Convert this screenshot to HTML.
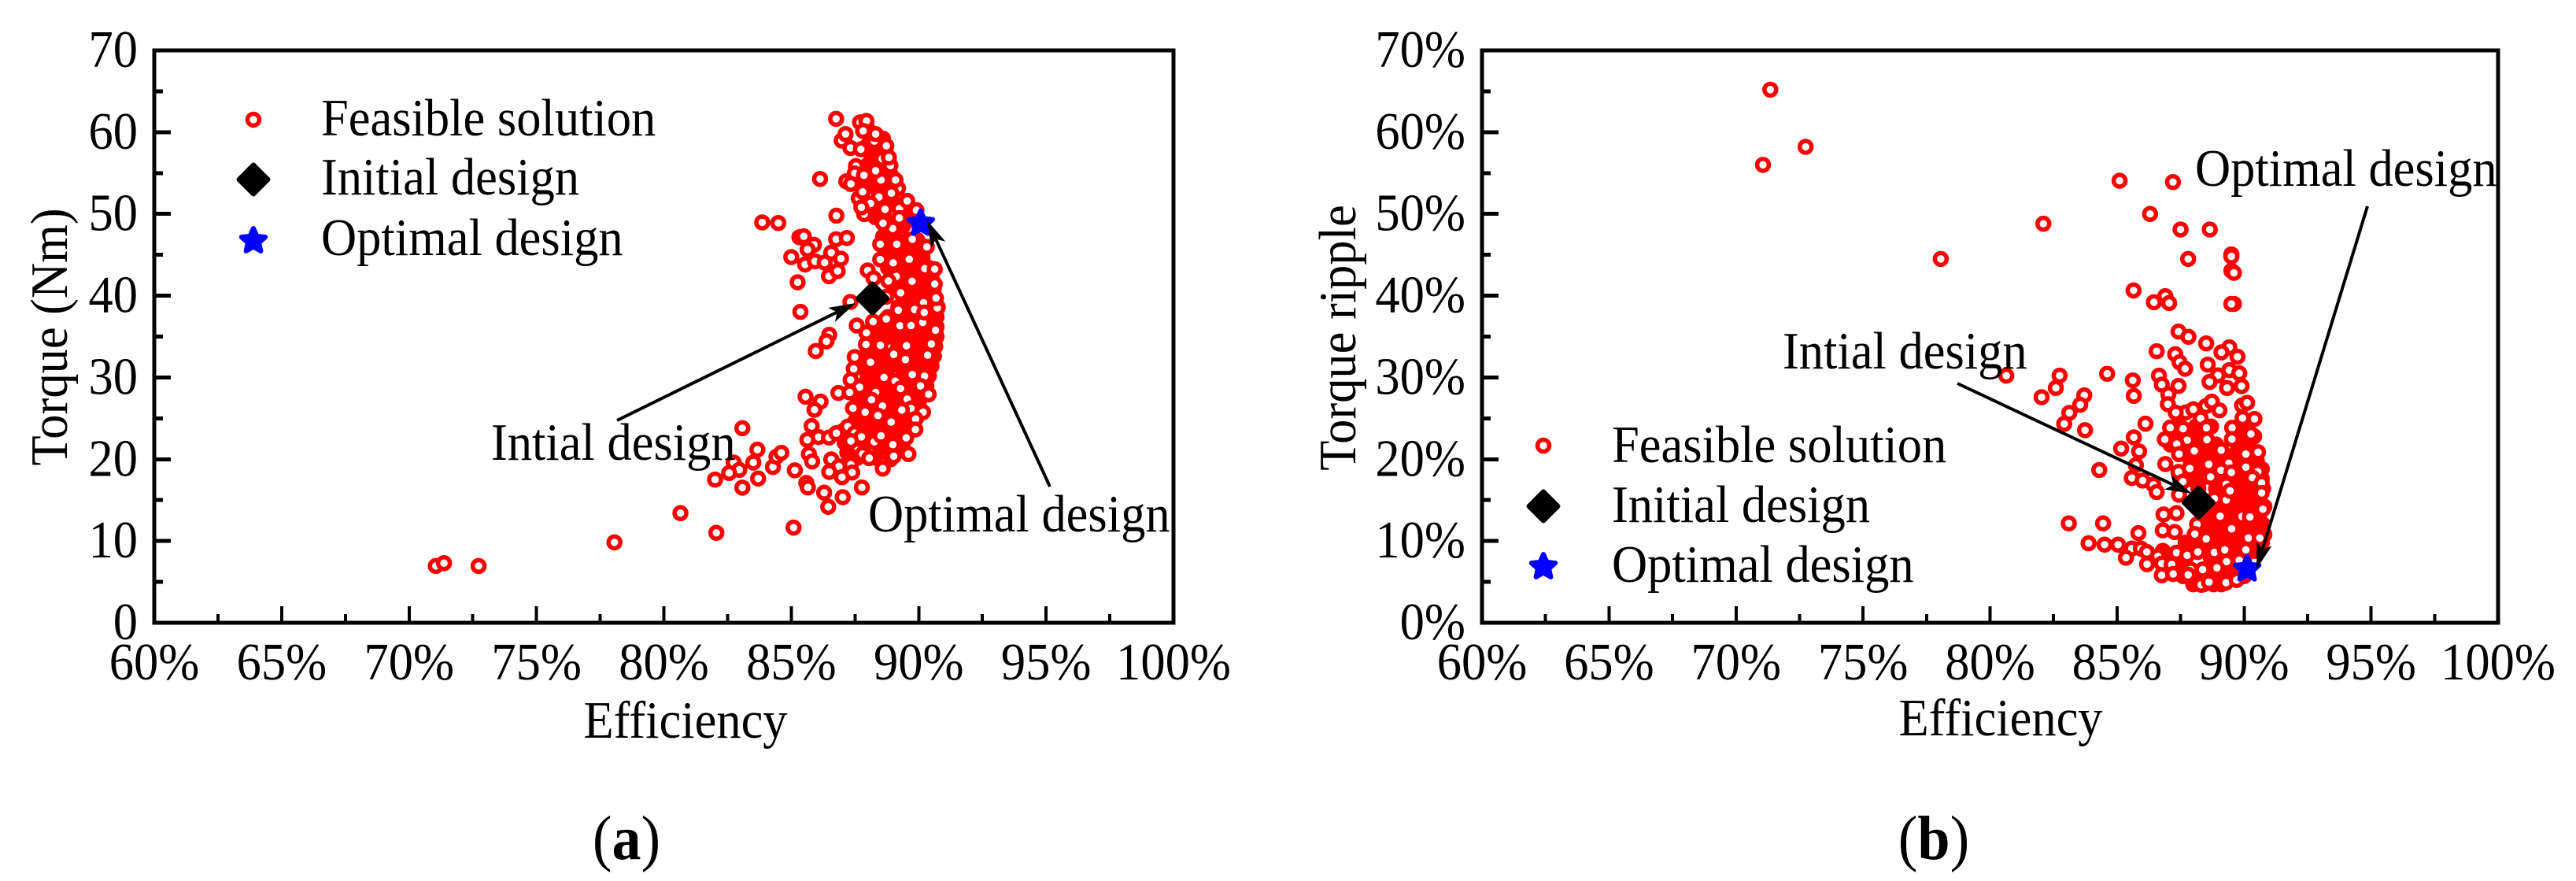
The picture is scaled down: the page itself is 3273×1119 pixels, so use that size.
<!DOCTYPE html>
<html lang="en">
<head>
<meta charset="utf-8">
<title>Feasible solutions: torque and torque ripple against efficiency</title>
<style>
html,body{margin:0;padding:0;background:#fff;}
svg{display:block;}
text{font-family:"Liberation Serif",serif;font-size:62.5px;fill:#000;}
</style>
</head>
<body>
<svg id="figure" xmlns="http://www.w3.org/2000/svg" width="3273" height="1119" viewBox="0 0 3273 1119">
  <rect x="0" y="0" width="3273" height="1119" fill="#fff"/>
  <g id="panel-a"></g>
  <g id="panel-b"></g>

  <text transform="translate(871,937) scale(1,1.07)" text-anchor="middle">Efficiency</text>
  <text transform="translate(85,428) rotate(-90) scale(1,1.07)" text-anchor="middle">Torque (Nm)</text>
  <text transform="translate(408,172) scale(1,1.07)">Feasible solution</text>
  <text transform="translate(408,247) scale(1,1.07)">Initial design</text>
  <text transform="translate(408,324) scale(1,1.07)">Optimal design</text>
  <text transform="translate(624,584) scale(1,1.07)">Intial design</text>
  <text transform="translate(1103,675) scale(1,1.07)">Optimal design</text>
  <text transform="translate(796,1091) scale(1,1.07)" text-anchor="middle" style="font-size:74px">(<tspan font-weight="bold">a</tspan>)</text>

  <text transform="translate(2542,934) scale(1,1.07)" text-anchor="middle">Efficiency</text>
  <text transform="translate(1722,429) rotate(-90) scale(1,1.07)" text-anchor="middle">Torque ripple</text>
  <text transform="translate(2048,587) scale(1,1.07)">Feasible solution</text>
  <text transform="translate(2048,663) scale(1,1.07)">Initial design</text>
  <text transform="translate(2048,739) scale(1,1.07)">Optimal design</text>
  <text transform="translate(2265,468) scale(1,1.07)">Intial design</text>
  <text transform="translate(2789,236) scale(1,1.07)">Optimal design</text>
  <text transform="translate(2457,1091) scale(1,1.07)" text-anchor="middle" style="font-size:74px">(<tspan font-weight="bold">b</tspan>)</text>
</svg>
<script>
var efficiencyTicks = [60, 65, 70, 75, 80, 85, 90, 95, 100];
var efficiencyTickLabels = ['60%', '65%', '70%', '75%', '80%', '85%', '90%', '95%', '100%'];
var torqueTicks = [0, 10, 20, 30, 40, 50, 60, 70];
var torqueTickLabels = ['0', '10', '20', '30', '40', '50', '60', '70'];
var rippleTicks = [0, 10, 20, 30, 40, 50, 60, 70];
var rippleTickLabels = ['0%', '10%', '20%', '30%', '40%', '50%', '60%', '70%'];

var initialDesignA = [88.19, 39.67];
var optimalDesignA = [90.08, 48.85];
var initialDesignB = [88.21, 14.7];
var optimalDesignB = [90.12, 6.57];

/* Feasible solutions, panel (a): [efficiency %, torque Nm]. Overlapped mass first. */
var feasibleDenseA = [
[89.2,46.8],[89.6,46.8],[89.95,46.8],[88.8,45.6],[89.2,45.6],[89.6,45.6],[90,45.6],[89.3,44.6],[89.7,44.6],[90.15,44.6],
[88.8,43.4],[89.2,43.4],[89.6,43.4],[90,43.4],[90.4,43.4],[89.4,42.2],[89.8,42.2],[90.2,42.2],[90.5,42.2],
[89,41],[89.4,41],[89.8,41],[90.2,41],[90.6,41],[89.6,39.8],[90,39.8],[90.4,39.8],[90.65,39.8],
[89.2,38.6],[89.6,38.6],[90,38.6],[90.4,38.6],[90.75,38.6],[88.8,37.4],[89.4,37.4],[89.8,37.4],[90.4,37.4],[90.7,37.4],
[88.4,36.2],[89,36.2],[89.4,36.2],[89.9,36.2],[90.3,36.2],[90.7,36.2],[88.3,35],[88.8,35],[89.2,35],[89.6,35],[90,35],[90.3,35],[90.7,35],
[88.1,33.8],[89.2,33.8],[89.9,33.8],[90.2,33.8],[90.65,33.8],[87.9,32.6],[88.4,32.6],[88.8,32.6],[89.8,32.6],[90.1,32.6],[90.6,32.6],
[87.8,31.4],[88.5,31.4],[88.9,31.4],[89.3,31.4],[89.7,31.4],[90.1,31.4],[90.5,31.4],[88,30.2],[88.3,30.2],[89.4,30.2],[90.4,30.2],
[87.6,29],[88.2,29],[88.6,29],[89,29],[89.6,29],[90.3,29],[87.9,27.8],[88.7,27.8],[89.1,27.8],[89.9,27.8],
[87.6,26.8],[88.2,26.8],[89.1,26.8],[89.6,26.8],[90,26.8],[87.8,25.6],[88.3,25.6],[88.9,25.6],[89.3,25.6],[89.9,25],
[87.5,24.6],[88.1,24.4],[88.5,24.6],[89.4,24.2],[87,23.4],[87.9,23.2],[88.4,23.4],[88.9,23.4],[89.3,23.2],
[87.1,22],[87.9,21.8],[88.5,21.4],[89.4,21.2],[87.2,20.8],[87.6,20.2],[88.3,20.2],[88.9,20],
[88.3,49.6],[88.6,50],[89,49],[89.4,48.6],[88.6,47.2],[89.1,53],[88.4,53.4],[88,54],[88.3,56],[88,58.4],
[88.1,57.5],[88.5,57.8],[88.4,55.8],[88,56],[88.9,54.8],[88.7,53],[88.2,53.2],[87.8,53.6],[88.4,51.3],[89,51.5],[88.2,50.4],[89.4,50],[89.7,49.3],[88,60.4],[88.6,59.2]
];
var feasibleOpenA = [
[71.05,6.95],[71.37,7.29],[72.73,6.95],[78.06,9.83],[80.65,13.41],[82.06,11],[85.09,11.64],
[86.76,61.63],[87.7,61.2],[87.95,61.37],[87.82,60.15],[87.08,59.13],[86.98,58.97],[87.13,59.77],[88.26,58.9],[87.32,58.07],[87.73,57.91],[88.31,59.77],[88.73,58.32],
[88.57,56.75],[88.89,55.92],[88.83,56.9],[87.54,55.85],[87.49,54.96],[87.85,54.73],[87.16,53.99],[87.34,53.67],[86.13,54.28],[89.19,53.13],[89.09,54.15],[88.52,54.15],[88.31,55.28],
[88,52.23],[88.44,52.07],[87.65,51.91],[87.8,52.7],[88.11,51.27],[87.86,49.98],[87.75,50.8],[88.68,50.56],[89.25,50.66],[88.93,52.55],[89.55,51.6],[89.91,50.46],[86.77,49.79],
[83.86,48.96],[84.49,48.89],[85.32,47.16],[85.49,47.26],[85.89,46.23],[85.64,45.65],[85.54,43.82],[86.76,46.9],[87.18,47.06],[86.57,45.27],[85,44.72],[85.93,44.21],[86.95,44.53],[86.31,44.05],[86.48,42.38],[86.82,43.02],[85.25,41.64],[85.36,38.02],
[88.49,46.29],[89.14,46.29],[88.98,48.22],[88.6,48.86],[89.24,49.5],[88.49,44.43],[89,44.02],[89.63,44.46],[90.24,43.31],[90.63,43.25],[90.32,45.97],[89.75,46.9],[88,43.09],[88.23,42.12],[89.12,42.35],[88.81,41.8],[89.74,41.77],[90.63,41.42],
[89.29,40.36],[88.73,39.88],[87.32,39.24],[90.19,39.14],[90.73,38.5],[90.68,39.7],[89.2,38.21],[89.84,38.31],[90.16,36.73],[90.22,37.95],[89.27,36.32],[87.57,36.35],[88.21,36.83],[88.73,37.15],[89.7,36.35],[90.63,36.03],
[90.66,35.77],[87.95,35.45],[87.93,34.04],[88.5,33.94],[89.52,33.88],[90.5,34.1],[86.49,35.22],[86.38,34.42],[85.96,33.23],[89.02,32.82],[89.48,32.18],[90.35,32.72],[88.11,31.86],[87.49,32.5],[87.45,31.05],[89.75,30.35],[90.23,30.15],[88.64,30],[89.08,29.55],[87.33,29.71],[87.68,28.81],[90.07,28.97],[89.29,28.65],
[86.85,28.1],[87.29,28.17],[90.39,27.94],[88.31,28.17],[88.15,27.27],[89.55,27.36],[85.56,27.65],[86.15,27.04],[85.91,26.05],[87.42,26.24],[88.58,26.5],[89.7,26.21],[89.34,26.02],[88.4,25.34],[87.9,25.76],[90.17,25.76],[89.88,24.93],[88.92,24.54],
[85.8,24.06],[87.22,24],[89.87,23.64],[86.07,22.71],[86.48,22.65],[86.77,23.19],[87.49,23.19],[87.75,22.74],[88.26,22.13],[88.52,22.87],[89.51,22.62],[85.63,22.36],[87.34,22.23],[88.99,21.78],[85.69,20.63],[85.82,19.73],[87.8,20.63],[86.57,19.98],[89.02,20.37],[89.6,20.63],[88.59,19.41],[88.59,18.86],[86.87,19.12],[87.34,19.34],[86.49,18.45],[87.39,18.38],[86.99,17.8],[88.06,20.14],
[83.08,23.8],[83.67,21.17],[83.51,19.6],[82.74,19.6],[82.96,18.7],[82.56,18.32],[82.01,17.51],[83.08,16.52],[83.7,17.64],[84.28,19.05],[84.42,20.31],[84.61,20.79],[85.14,18.64],[85.59,17.1],[85.65,16.55],[86.29,15.91],[86.45,14.18],[87.02,15.36],[87.77,16.55]
];

/* Feasible solutions, panel (b): [efficiency %, torque ripple %]. Overlapped mass first. */
var feasibleDenseB = [
[88,4.7],[88.4,4.7],[88.8,4.7],[89.1,4.7],[87.6,5.7],[88,5.7],[88.9,5.7],[89.4,5.7],[90,5.7],[87.4,6.8],[87.6,6.8],[88.7,6.8],[89.6,6.8],
[86.4,7.8],[87,7.8],[87.5,7.8],[88.7,7.8],[89,7.8],[89.6,7.8],[90,7.8],[86.8,8.8],[87.9,8.8],[88.5,8.8],[89.6,8.8],[90.4,8.8],
[87.7,9.8],[88.3,9.8],[88.7,9.8],[89.1,9.8],[89.5,9.8],[89.9,9.8],[90.4,9.8],[90.7,9.8],[88.4,10.8],[88.9,10.8],[89.3,10.8],[89.7,10.8],[90.5,10.8],[90.8,10.8],
[88.5,12],[88.8,12],[89.2,12],[89.6,12],[90,12],[90.4,12],[90.75,12],[88.5,13.2],[88.7,13.2],[89.4,13.2],[89.7,13.2],[90.6,13.2],
[88.9,14.2],[89.4,14.2],[89.8,14.2],[90.1,14.2],[90.5,14.2],[90.8,14.2],[88.9,15.4],[89.6,15.4],[90,15.4],[90.3,15.4],[90.6,15.4],
[88.2,16.4],[88.9,16.4],[89.9,16.4],[90.3,16.4],[90.75,16.4],[87.9,17.6],[88.3,17.6],[89,17.6],[89.8,17.6],[90,17.6],[90.4,17.6],[90.7,17.6],
[88.2,18.8],[89.7,18.8],[90.3,18.8],[90.7,18.8],[87.9,19.8],[88.2,19.8],[88.8,19.8],[89.2,19.8],[89.8,19.8],[90.3,19.8],[90.5,19.8],
[87.5,20.8],[88.4,20.8],[88.8,20.8],[89.7,20.8],[87.1,21.8],[88.3,21.8],[88.9,21.8],[89.9,21.8],[90.2,21.8],[87.4,22.8],[88,22.8],[88.3,22.8],[90,22.8],[90.4,22.8],
[87.5,24],[88.1,24],[88.5,24],[88.7,24],[89.9,24]
];
var feasibleOpenB = [
[71.35,65.2],[72.74,58.2],[71.06,56],[85.1,54.06],[87.2,53.9],[86.3,50],[82.1,48.8],[87.5,48.1],[88.65,48.1],[78.06,44.5],[87.8,44.5],[89.5,45.05],[89.5,44.8],[89.5,43.05],[89.6,42.8],[85.65,40.65],[86.9,39.95],[86.45,39.2],[87.05,39.1],[89.6,39],[89.5,39],
[80.64,30.22],[87.42,35.61],[87.81,34.97],[88.51,34.17],[89.42,33.69],[89.11,33.08],[89.74,32.53],[86.56,33.21],[87.29,32.85],[87.46,31.86],[87.68,31.06],[88.57,31.57],[89.42,30.9],[89.81,30.51],[88.97,30.26],[88.64,29.45],[89.9,28.94],[89.33,28.72],
[82.74,30.22],[82.59,28.72],[82.03,27.59],[83.71,27.82],[83.55,26.66],[83.12,25.67],[82.92,24.32],[83.74,23.55],[84.61,30.45],[85.62,29.65],[85.66,27.75],[86.65,30.22],[86.76,29.13],[87.42,28.97],[87.02,27.95],[87,26.73],
[89.92,26.57],[90.12,26.9],[88.5,26.5],[88.73,27.05],[89.03,25.99],[87.71,25.73],[87.31,25.7],[88,26.1],[88.29,25],[89.94,25.03],[90.41,24.93],[87.09,23.87],[87.6,23.74],[88.52,23.84],[89.53,23.84],[90.27,23.1],[89.52,22.46],[86.88,22.43],[87.76,22.33],[88.54,22.4],[87.35,21.85],[88.04,21.02],[89.1,21.11],[90.55,20.86],[90.07,20.63],
[86.12,24.35],[85.66,22.68],[85.16,21.3],[85.87,20.95],[85.74,19.28],[84.3,18.68],[86.9,19.41],[87.42,18.45],[87.86,18.87],[88.61,19.38],[89.4,19.51],[87.44,20.63],[88.68,17.84],[89.09,18.64],[89.5,18.39],[90.07,19.03],[90.54,18.48],[85.58,17.71],[86.01,17.39],[86.43,16.88],[87.59,17.26],[89.3,16.94],[90.33,17.74],
[90.69,17.1],[90.69,15.88],[89.3,15.02],[89.45,16.14],[87.44,15.66],[86.56,15.98],[88.83,15.18],[90.74,13.89],[89.92,13],[90.23,12.93],[89.06,13.03],[86.83,13.25],[87.34,13.41],[86.8,11.3],[87.27,11.1],[88.15,12.03],[89.51,11.49],[83.1,12.16],[84.45,12.16],[85.84,10.97],
[90.17,10.36],[90.62,10.36],[88.51,10.27],[88.06,10.85],[83.88,9.72],[84.51,9.56],[85.04,9.56],[85.58,9.08],[85.35,7.96],[85.94,9.08],[86.17,8.66],[86.18,7.16],[86.61,8.12],[87.34,8.57],[87.76,8.25],[88.18,8.66],[88.83,8.6],[89.24,8.92],[90.07,8.92],
[86.76,7.25],[87.15,7.12],[89.31,7.48],[89.81,7.64],[86.76,5.81],[87.21,5.97],[87.9,6.51],[88.37,6.51],[88.93,6.71],[87.8,5.87],[88.31,4.65],[88.62,4.97],[89.29,4.91],[89.71,5.23]
];

var SVGNS = 'http://www.w3.org/2000/svg';
var RED = '#ff0000';
var BLUE = '#0000ff';

function make(parent, tag, attrs) {
  var el = document.createElementNS(SVGNS, tag);
  for (var k in attrs) { el.setAttribute(k, attrs[k]); }
  parent.appendChild(el);
  return el;
}

function drawRing(parent, px, py, name, core) {
  var el = make(parent, 'circle', {cx: px, cy: py, r: 7.5, fill: core, stroke: RED, 'stroke-width': 5.5});
  
  
  return el;
}

function drawDiamond(parent, px, py, name) {
  var d = 18.5;
  var el = make(parent, 'polygon', {
    points: px + ',' + (py - d) + ' ' + (px + d) + ',' + py + ' ' + px + ',' + (py + d) + ' ' + (px - d) + ',' + py,
    fill: '#000', stroke: '#000', 'stroke-width': 6, 'stroke-linejoin': 'round'
  });
  
  
  return el;
}

function drawStar(parent, px, py, name) {
  var pts = [];
  for (var i = 0; i < 10; i++) {
    var rad = i % 2 === 0 ? 16 : 7.5;
    var ang = -Math.PI / 2 + i * Math.PI / 5;
    pts.push((px + rad * Math.cos(ang)).toFixed(1) + ',' + (py + rad * Math.sin(ang)).toFixed(1));
  }
  var el = make(parent, 'polygon', {
    points: pts.join(' '), fill: BLUE, stroke: BLUE, 'stroke-width': 6, 'stroke-linejoin': 'round'
  });
  
  
  return el;
}

function drawArrow(parent, x1, y1, x2, y2, name) {
  var dx = x2 - x1, dy = y2 - y1, len = Math.sqrt(dx * dx + dy * dy);
  var ux = dx / len, uy = dy / len, nx = -uy, ny = ux;
  var g = make(parent, 'g', {});
  
  
  make(g, 'line', {x1: x1, y1: y1, x2: x2 - ux * 20, y2: y2 - uy * 20, stroke: '#000', 'stroke-width': 4});
  var p = [
    [x2, y2],
    [x2 - ux * 34 + nx * 10, y2 - uy * 34 + ny * 10],
    [x2 - ux * 26, y2 - uy * 26],
    [x2 - ux * 34 - nx * 10, y2 - uy * 34 - ny * 10]
  ];
  make(g, 'polygon', {points: p.map(function (q) { return q[0].toFixed(1) + ',' + q[1].toFixed(1); }).join(' '), fill: '#000'});
}

function drawPanel(cfg) {
  var root = document.getElementById(cfg.id);
  var xScale = function (v) { return cfg.x0 + (v - 60) / 40 * (cfg.x1 - cfg.x0); };
  var yScale = function (v) { return cfg.y0 + (v - 0) / 70 * (cfg.y1 - cfg.y0); };

  var points = make(root, 'g', {});
  
  
  cfg.dense.forEach(function (d) {
    drawRing(points, xScale(d[0]), yScale(d[1]), 'feasible-point-overlapped', RED);
  });
  cfg.open.forEach(function (d) {
    drawRing(points, xScale(d[0]), yScale(d[1]), 'feasible-point', '#fff');
  });

  var frame = make(root, 'rect', {
    x: cfg.x0, y: cfg.y1, width: cfg.x1 - cfg.x0, height: cfg.y0 - cfg.y1,
    fill: 'none', stroke: '#000', 'stroke-width': 5, 'shape-rendering': 'crispEdges'
  });
  
  

  var ticks = make(root, 'g', {stroke: '#000', 'shape-rendering': 'crispEdges'});
  
  
  var i, px, py, t;

  for (i = 0; i < efficiencyTicks.length; i++) {
    px = xScale(efficiencyTicks[i]);
    make(ticks, 'line', {x1: px, y1: cfg.y0, x2: px, y2: cfg.y0 - 21, 'stroke-width': 4});
    if (i < efficiencyTicks.length - 1) {
      var mx = xScale((efficiencyTicks[i] + efficiencyTicks[i + 1]) / 2);
      make(ticks, 'line', {x1: mx, y1: cfg.y0, x2: mx, y2: cfg.y0 - 11, 'stroke-width': 4});
    }
    t = make(root, 'text', {transform: 'translate(' + px + ',863) scale(1,1.07)', 'text-anchor': 'middle'});
    t.textContent = efficiencyTickLabels[i];
    
    
  }
  for (i = 0; i < cfg.yTicks.length; i++) {
    py = yScale(cfg.yTicks[i]);
    make(ticks, 'line', {x1: cfg.x0, y1: py, x2: cfg.x0 + 21, y2: py, 'stroke-width': 5});
    if (i < cfg.yTicks.length - 1) {
      var my = yScale((cfg.yTicks[i] + cfg.yTicks[i + 1]) / 2);
      make(ticks, 'line', {x1: cfg.x0, y1: my, x2: cfg.x0 + 11, y2: my, 'stroke-width': 5});
    }
    t = make(root, 'text', {transform: 'translate(' + (cfg.x0 - 21) + ',' + (py + 21) + ') scale(1,1.07)', 'text-anchor': 'end'});
    t.textContent = cfg.yLabels[i];
    
    
  }

  drawDiamond(root, xScale(cfg.initial[0]), yScale(cfg.initial[1]), 'initial-design-point');
  drawStar(root, xScale(cfg.optimal[0]), yScale(cfg.optimal[1]), 'optimal-design-point');

  drawArrow(root, cfg.arrowInitial[0], cfg.arrowInitial[1], cfg.arrowInitial[2], cfg.arrowInitial[3], 'initial-design-arrow');
  drawArrow(root, cfg.arrowOptimal[0], cfg.arrowOptimal[1], cfg.arrowOptimal[2], cfg.arrowOptimal[3], 'optimal-design-arrow');

  drawRing(root, cfg.legendX, cfg.legendY[0], 'legend-marker-feasible', '#fff');
  drawDiamond(root, cfg.legendX, cfg.legendY[1], 'legend-marker-initial');
  drawStar(root, cfg.legendX, cfg.legendY[2], 'legend-marker-optimal');
}

drawPanel({
  id: 'panel-a', x0: 196, x1: 1491, y0: 791, y1: 64,
  yTicks: torqueTicks, yLabels: torqueTickLabels,
  dense: feasibleDenseA, open: feasibleOpenA,
  initial: initialDesignA, optimal: optimalDesignA,
  arrowInitial: [784, 534, 1087, 385], arrowOptimal: [1334, 618, 1178, 280],
  legendX: 322, legendY: [152, 228, 306]
});
drawPanel({
  id: 'panel-b', x0: 1883, x1: 3174, y0: 791, y1: 64,
  yTicks: rippleTicks, yLabels: rippleTickLabels,
  dense: feasibleDenseB, open: feasibleOpenB,
  initial: initialDesignB, optimal: optimalDesignB,
  arrowInitial: [2487, 487, 2785, 627], arrowOptimal: [3008, 262, 2867, 723],
  legendX: 1961, legendY: [566, 643, 720]
});
</script>
</body>
</html>
